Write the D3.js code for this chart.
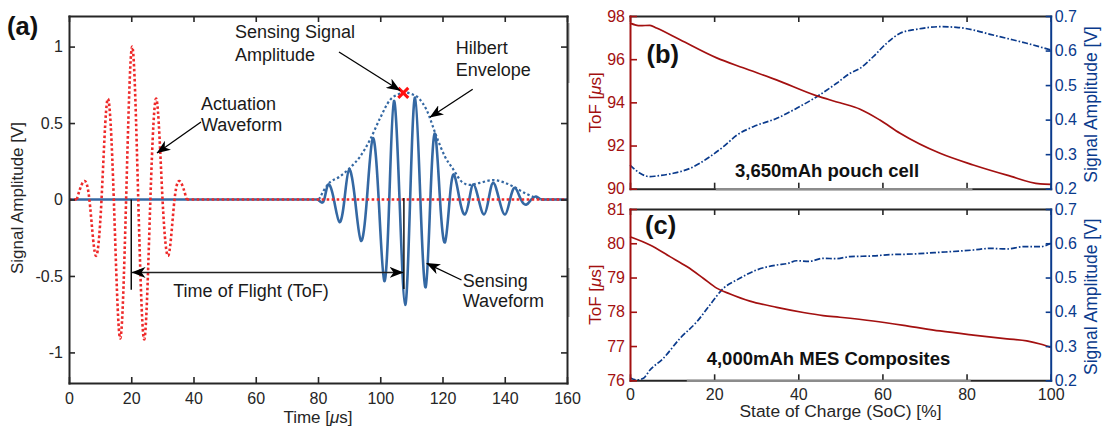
<!DOCTYPE html>
<html><head><meta charset="utf-8">
<script src="https://cdn.jsdelivr.net/npm/d3@7"></script>
<style>
body{margin:0;background:#fff;}
svg{display:block;}
</style></head><body>
<svg id="chart" width="1102" height="428"></svg>
<script>
// ---------------- DATA ----------------
// Panel (a): actuation tone burst (time in us, amplitude in V)
const actuationTime  = [2.5, 4.6, 6.55, 8.5, 10.45, 12.4, 14.4, 16.4, 18.35, 20.3, 22.25, 24.2, 26.15, 28.1, 30.05, 32, 33.9, 35.8, 37.8];
const actuationValue = [0, 0.116, 0, -0.363, 0, 0.657, 0, -0.908, 0, 1.0, 0, -0.914, 0, 0.657, 0, -0.363, 0, 0.116, 0];
// Panel (a): sensing waveform
const sensingTime  = [80.0, 80.8, 82.0, 83.3, 85.1, 86.9, 88.5, 90.0, 91.9, 93.8, 95.7, 97.6, 99.5, 101.3, 102.9, 104.4, 106.2, 108.0, 109.6, 111.2, 112.9, 114.6, 116.1, 117.6, 119.2, 120.8, 122.3, 123.7, 125.5, 127.2, 128.6, 129.9, 131.6, 133.3, 134.8, 136.3, 138.2, 140.1, 141.7, 143.3, 145.2, 147.0, 148.5, 150.0, 151.5];
const sensingValue = [0, -0.015, 0, 0.098, 0, -0.148, 0, 0.196, 0, -0.27, 0, 0.40, 0, -0.533, 0, 0.645, 0, -0.69, 0, 0.667, 0, -0.574, 0, 0.43, 0, -0.28, 0, 0.163, 0, -0.098, 0, 0.098, 0, -0.098, 0, 0.109, 0, -0.098, 0, 0.076, 0, -0.033, 0, 0.02, 0];
// Panel (a): Hilbert envelope
const envelopeTime  = [80.3, 83.2, 86.9, 90.3, 93.5, 96.7, 99.9, 103.1, 106, 108, 110, 112.5, 114.9, 118.1, 120.8, 123.5, 126.2, 128.8, 132, 136.3, 140, 142.8, 147, 150.3, 152];
const envelopeValue = [0, 0.10, 0.149, 0.207, 0.28, 0.39, 0.53, 0.65, 0.69, 0.70, 0.69, 0.66, 0.585, 0.41, 0.28, 0.196, 0.116, 0.095, 0.109, 0.127, 0.11, 0.084, 0.036, 0.01, 0];
const signalPeak = {time: 107.4, value: 0.697};
const tofStart = 20, tofEnd = 107.6;
const timeTicks = [0, 20, 40, 60, 80, 100, 120, 140, 160];
const ampTicksA = [-1, -0.5, 0, 0.5, 1];

// Panel (b): 3,650mAh pouch cell
const socB_tof = [0, 2.4, 4.75, 6.3, 11.9, 20.6, 26.9, 34.8, 44.4, 49.9, 54.7, 59.4, 64.2, 73.7, 81.6, 89.6, 97.5, 100];
const tofB     = [97.67, 97.55, 97.57, 97.44, 96.9, 96.06, 95.6, 95.04, 94.3, 93.98, 93.68, 93.18, 92.57, 91.64, 91.1, 90.63, 90.22, 90.2];
const socB_amp = [0, 2.4, 4.75, 6.3, 10.3, 14.3, 19.0, 22.2, 25.4, 29.3, 34.9, 39.6, 44.4, 49.1, 52.3, 54.7, 57.8, 61.0, 64.2, 68.1, 73.7, 77.6, 81.6, 85.6, 89.5, 94.3, 100];
const ampB     = [0.2686, 0.2446, 0.2347, 0.2368, 0.2446, 0.259, 0.2926, 0.3216, 0.355, 0.3795, 0.4038, 0.4328, 0.4664, 0.5052, 0.534, 0.5486, 0.582, 0.621, 0.650, 0.6615, 0.669, 0.6673, 0.6595, 0.647, 0.6354, 0.621, 0.6016];
const tofTicksB = [90, 92, 94, 96, 98];

// Panel (c): 4,000mAh MES composites
const socC_tof = [0, 4.75, 9.5, 13.5, 17.4, 20.6, 23.8, 28.5, 34.9, 41.2, 45.9, 49.9, 57.8, 65.8, 73.7, 81.6, 89.6, 94.3, 97.5, 100];
const tofC     = [80.19, 79.95, 79.61, 79.32, 78.98, 78.69, 78.52, 78.31, 78.13, 77.98, 77.89, 77.84, 77.73, 77.59, 77.44, 77.32, 77.21, 77.15, 77.06, 76.96];
const socC_amp = [0, 1.6, 3.2, 4.75, 7.9, 11.9, 15.9, 19.0, 22.2, 25.4, 30.1, 34.9, 37.5, 39.6, 42.5, 45.9, 49, 52.3, 57.8, 62, 65.8, 73.7, 81.6, 85.6, 89.6, 93.5, 97.5, 100];
const ampC     = [0.2076, 0.201, 0.206, 0.230, 0.264, 0.3226, 0.371, 0.420, 0.4685, 0.493, 0.522, 0.5366, 0.541, 0.549, 0.547, 0.556, 0.555, 0.561, 0.563, 0.567, 0.568, 0.5736, 0.5803, 0.585, 0.5833, 0.590, 0.590, 0.60];
const tofTicksC = [76, 77, 78, 79, 80, 81];
const ampTicksR = [0.2, 0.3, 0.4, 0.5, 0.6, 0.7];
const socTicks = [0, 20, 40, 60, 80, 100];

// ---------------- STYLE ----------------
const FONT = '"Liberation Sans", Arial, Helvetica, sans-serif';
const AXC = "#262626";
const RED_A = "#ee2a2a", BLUE_A = "#3468a3";
const RED = "#a31010", BLUE = "#0a3a8c";

const svg = d3.select("#chart").attr("font-family", FONT);
svg.append("rect").attr("width", 1102).attr("height", 428).attr("fill", "#fff");

const defs = svg.append("defs");
defs.append("marker").attr("id", "ah")
  .attr("viewBox", "0 0 14 11").attr("refX", 13.5).attr("refY", 5.5)
  .attr("markerWidth", 14).attr("markerHeight", 11)
  .attr("markerUnits", "userSpaceOnUse").attr("orient", "auto-start-reverse")
  .append("path").attr("d", "M0,0 L14,5.5 L0,11 L4,5.5 Z").attr("fill", "#000");

function styleAxis(g, color, labelSize) {
  g.attr("font-family", FONT).attr("font-size", labelSize || 16);
  g.select(".domain").attr("stroke", color).attr("stroke-width", 2).attr("stroke-linecap", "square");
  g.selectAll(".tick line").attr("stroke", color).attr("stroke-width", 1.6);
  g.selectAll(".tick text").attr("fill", color);
}
const fmt = d => String(d);

// ---------------- PANEL (a) ----------------
const xA = d3.scaleLinear().domain([0, 160]).range([69, 567]);
const yA = d3.scaleLinear().domain([-1.2, 1.2]).range([383, 16]);
const gA = svg.append("g");

const burst = d3.line().x(d => xA(d[0])).y(d => yA(d[1])).curve(d3.curveNatural);
const smooth = d3.line().x(d => xA(d[0])).y(d => yA(d[1])).curve(d3.curveMonotoneX);
const straight = d3.line().x(d => xA(d[0])).y(d => yA(d[1]));

// sensing waveform (solid blue), zero outside the burst
const sensPts = sensingTime.map((t, i) => [t, sensingValue[i]]);
gA.append("path").attr("d", straight([[0, 0], [sensingTime[0], 0]]))
  .attr("fill", "none").attr("stroke", BLUE_A).attr("stroke-width", 2.6);
gA.append("path").attr("d", straight([[sensingTime[sensingTime.length - 1], 0], [160, 0]]))
  .attr("fill", "none").attr("stroke", BLUE_A).attr("stroke-width", 2.6);
gA.append("path").attr("d", burst(sensPts))
  .attr("fill", "none").attr("stroke", BLUE_A).attr("stroke-width", 2.6);

// Hilbert envelope (dotted blue)
const envPts = envelopeTime.map((t, i) => [t, envelopeValue[i]]);
gA.append("path").attr("d", smooth(envPts))
  .attr("fill", "none").attr("stroke", BLUE_A).attr("stroke-width", 2.2).attr("stroke-dasharray", "2.4,2.4");
gA.append("path").attr("d", straight([[envelopeTime[envelopeTime.length - 1], 0], [160, 0]]))
  .attr("fill", "none").attr("stroke", BLUE_A).attr("stroke-width", 2.2).attr("stroke-dasharray", "2.4,2.4");

// actuation waveform (dotted red), zero outside burst
const actPts = actuationTime.map((t, i) => [t, actuationValue[i]]);
const redDot = p => p.attr("fill", "none").attr("stroke", RED_A).attr("stroke-width", 2.6).attr("stroke-dasharray", "2.6,2.4");
redDot(gA.append("path").attr("d", straight([[0, 0], [actuationTime[0], 0]])));
redDot(gA.append("path").attr("d", burst(actPts)));
redDot(gA.append("path").attr("d", straight([[actuationTime[actuationTime.length - 1], 0], [160, 0]])));

// ToF markers
gA.append("line").attr("x1", xA(tofStart)).attr("x2", xA(tofStart)).attr("y1", yA(0)).attr("y2", yA(-0.59))
  .attr("stroke", "#000").attr("stroke-width", 1.4);
gA.append("line").attr("x1", xA(tofEnd)).attr("x2", xA(tofEnd)).attr("y1", yA(0.01)).attr("y2", yA(-0.585))
  .attr("stroke", "#000").attr("stroke-width", 1.4);
gA.append("line").attr("x1", xA(tofStart) + 0.8).attr("x2", xA(tofEnd) - 0.8).attr("y1", yA(-0.477)).attr("y2", yA(-0.477))
  .attr("stroke", "#222").attr("stroke-width", 1.4)
  .attr("marker-start", "url(#ah)").attr("marker-end", "url(#ah)");

// peak marker
const px = xA(signalPeak.time), py = yA(signalPeak.value);
gA.append("path").attr("d", `M${px - 5},${py - 5}L${px + 5},${py + 5}M${px - 5},${py + 5}L${px + 5},${py - 5}`)
  .attr("stroke", "#ff1010").attr("stroke-width", 3);

// annotation arrows
function arrow(x1, y1, x2, y2) {
  gA.append("line").attr("x1", x1).attr("y1", y1).attr("x2", x2).attr("y2", y2)
    .attr("stroke", "#000").attr("stroke-width", 1.3).attr("marker-end", "url(#ah)");
}
arrow(201, 122, 157, 153);
arrow(339, 52, 400, 90.5);
arrow(472.7, 89.3, 430, 117.3);
arrow(461.5, 280, 426.7, 263.3);

function label(x, y, lines, dy) {
  const t = gA.append("text").attr("x", x).attr("y", y).attr("font-size", 18).attr("fill", "#1a1a1a");
  lines.forEach((s, i) => t.append("tspan").attr("x", x).attr("dy", i === 0 ? 0 : dy).text(s));
}
label(201, 110, ["Actuation", "Waveform"], 20.5);
label(235, 38, ["Sensing Signal", "Amplitude"], 22.5);
label(455.7, 54, ["Hilbert", "Envelope"], 22);
label(462.7, 287.3, ["Sensing", "Waveform"], 20);
label(173.3, 296.7, ["Time of Flight (ToF)"], 0);

// faint box-edge artifacts next to the frame
gA.append("line").attr("x1", 568.8).attr("x2", 568.8).attr("y1", 23).attr("y2", 83).attr("stroke", "#aaa").attr("stroke-width", 1.5);
gA.append("line").attr("x1", 568.8).attr("x2", 568.8).attr("y1", 268).attr("y2", 317).attr("stroke", "#aaa").attr("stroke-width", 1.5);

// axes (a)
styleAxis(gA.append("g").attr("transform", `translate(0,${yA.range()[0]})`)
  .call(d3.axisBottom(xA).tickValues(timeTicks).tickFormat(fmt).tickSize(-6).tickSizeOuter(0).tickPadding(10)), AXC);
styleAxis(gA.append("g").attr("transform", `translate(0,${yA.range()[1]})`)
  .call(d3.axisTop(xA).tickValues(timeTicks).tickFormat("").tickSize(-6).tickSizeOuter(0)), AXC);
styleAxis(gA.append("g").attr("transform", `translate(${xA.range()[0]},0)`)
  .call(d3.axisLeft(yA).tickValues(ampTicksA).tickFormat(fmt).tickSize(-6).tickSizeOuter(0).tickPadding(6)), AXC);
styleAxis(gA.append("g").attr("transform", `translate(${xA.range()[1]},0)`)
  .call(d3.axisRight(yA).tickValues(ampTicksA).tickFormat("").tickSize(-6).tickSizeOuter(0)), AXC);

// titles (a)
gA.append("text").attr("transform", "translate(23,198) rotate(-90)").attr("text-anchor", "middle")
  .attr("font-size", 17).attr("fill", "#262626").text("Signal Amplitude [V]");
const tA = gA.append("text").attr("x", 318).attr("y", 423).attr("text-anchor", "middle").attr("font-size", 17).attr("fill", "#262626");
tA.append("tspan").text("Time [");
tA.append("tspan").attr("font-style", "italic").text("\u03bc");
tA.append("tspan").text("s]");
gA.append("text").attr("x", 7).attr("y", 35).attr("font-size", 25.5).attr("font-weight", "bold").attr("fill", "#111").text("(a)");

// ---------------- PANELS (b), (c) ----------------
const xS = d3.scaleLinear().domain([0, 100]).range([630, 1050.7]);

function sidePanel(cfg) {
  const g = svg.append("g");
  const yL = d3.scaleLinear().domain(cfg.tofDomain).range([cfg.bottom, cfg.top]);
  const yR = d3.scaleLinear().domain([0.2, 0.7]).range([cfg.bottom, cfg.top]);

  const lineL = d3.line().x(d => xS(d[0])).y(d => yL(d[1])).curve(d3.curveMonotoneX);
  const lineR = d3.line().x(d => xS(d[0])).y(d => yR(d[1])).curve(d3.curveMonotoneX);

  g.append("path").attr("d", lineR(cfg.ampSoc.map((s, i) => [s, cfg.amp[i]])))
    .attr("fill", "none").attr("stroke", BLUE).attr("stroke-width", 1.7).attr("stroke-dasharray", "6,2,1.6,2");
  g.append("path").attr("d", lineL(cfg.tofSoc.map((s, i) => [s, cfg.tof[i]])))
    .attr("fill", "none").attr("stroke", RED).attr("stroke-width", 1.7);

  styleAxis(g.append("g").attr("transform", `translate(0,${cfg.top})`)
    .call(d3.axisTop(xS).tickValues(socTicks).tickFormat("").tickSize(-6).tickSizeOuter(0)), AXC);
  const bAx = g.append("g").attr("transform", `translate(0,${cfg.bottom})`)
    .call(d3.axisBottom(xS).tickValues(socTicks).tickFormat(cfg.showX ? fmt : "").tickSize(-6).tickSizeOuter(0).tickPadding(8));
  styleAxis(bAx, AXC);
  // grey text-box edge lying on the lower frame
  g.append("line").attr("x1", xS(cfg.boxEdge[0])).attr("x2", xS(cfg.boxEdge[1]))
    .attr("y1", cfg.bottom + 0.5).attr("y2", cfg.bottom + 0.5).attr("stroke", "#8c8c8c").attr("stroke-width", 2.2);

  styleAxis(g.append("g").attr("transform", `translate(${xS.range()[0]},0)`)
    .call(d3.axisLeft(yL).tickValues(cfg.tofTicks).tickFormat(fmt).tickSize(-7).tickSizeOuter(0).tickPadding(5)), RED);
  styleAxis(g.append("g").attr("transform", `translate(${xS.range()[1]},0)`)
    .call(d3.axisRight(yR).tickValues(ampTicksR).tickFormat(fmt).tickSize(-5).tickSizeOuter(0).tickPadding(4)), BLUE);

  const mid = (cfg.top + cfg.bottom) / 2;
  const tl = g.append("text").attr("transform", `translate(601,${mid}) rotate(-90)`).attr("text-anchor", "middle")
    .attr("font-size", 17).attr("fill", RED);
  tl.append("tspan").text("ToF [");
  tl.append("tspan").attr("font-style", "italic").text("\u03bc");
  tl.append("tspan").text("s]");
  g.append("text").attr("transform", `translate(1097,${mid + 2}) rotate(-90)`).attr("text-anchor", "middle")
    .attr("font-size", 17.5).attr("fill", BLUE).text("Signal Amplitude [V]");

  g.append("text").attr("x", cfg.tag[0]).attr("y", cfg.tag[1]).attr("font-size", 25.5).attr("font-weight", "bold")
    .attr("fill", "#111").text(cfg.tagText);
  g.append("text").attr("x", cfg.note[0]).attr("y", cfg.note[1]).attr("font-size", 18.5).attr("font-weight", "bold")
    .attr("fill", "#111").text(cfg.noteText);
  return g;
}

sidePanel({
  top: 16, bottom: 188.7, tofDomain: [90, 98], tofTicks: tofTicksB,
  tofSoc: socB_tof, tof: tofB, ampSoc: socB_amp, amp: ampB, showX: false,
  boxEdge: [20.4, 81.4], tag: [646.5, 63.3], tagText: "(b)",
  note: [735, 177], noteText: "3,650mAh pouch cell"
});
sidePanel({
  top: 209, bottom: 380.3, tofDomain: [76, 81], tofTicks: tofTicksC,
  tofSoc: socC_tof, tof: tofC, ampSoc: socC_amp, amp: ampC, showX: true,
  boxEdge: [13.5, 81], tag: [645, 234.3], tagText: "(c)",
  note: [706.7, 365], noteText: "4,000mAh MES Composites"
});

svg.append("text").attr("x", 840.5).attr("y", 416.7).attr("text-anchor", "middle")
  .attr("font-size", 17.4).attr("fill", "#262626").text("State of Charge (SoC) [%]");
</script>
</body></html>
